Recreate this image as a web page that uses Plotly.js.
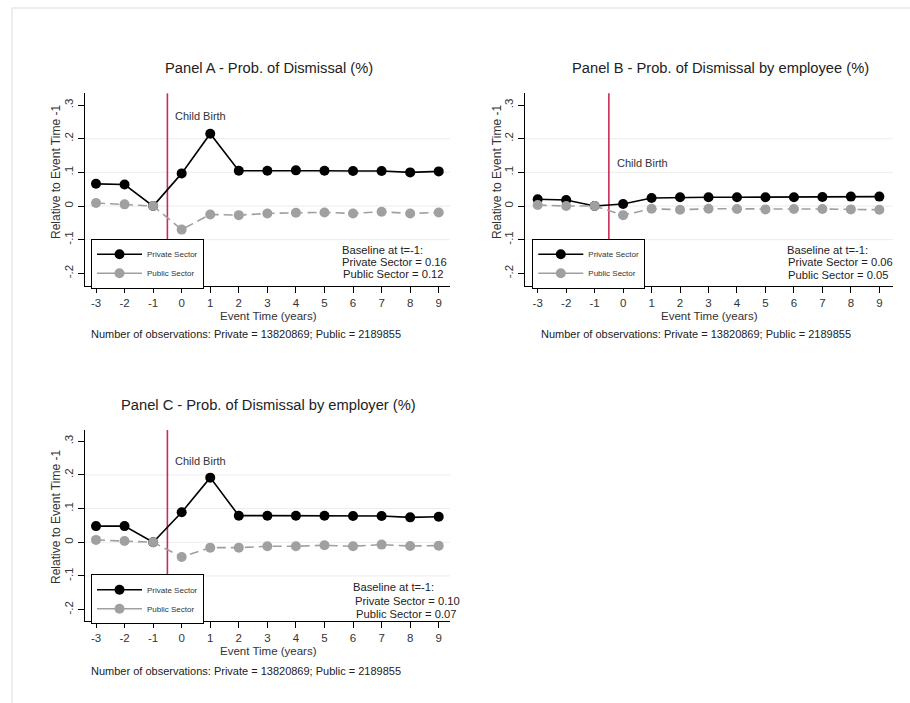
<!DOCTYPE html>
<html>
<head>
<meta charset="utf-8">
<script src="https://cdn.plot.ly/plotly-3.0.1.min.js"></script>
<style>html,body{margin:0;padding:0;background:#fff;}#chart{width:910px;height:703px;}</style>
</head>
<body>
<div id="chart"></div>
<script>
// ---- data ----
const eventTime = [-3, -2, -1, 0, 1, 2, 3, 4, 5, 6, 7, 8, 9];
const privateA = [0.066, 0.064, 0.000, 0.097, 0.215, 0.105, 0.105, 0.106, 0.105, 0.104, 0.104, 0.100, 0.103];
const publicA  = [0.009, 0.005, 0.000, -0.070, -0.025, -0.027, -0.022, -0.020, -0.019, -0.022, -0.017, -0.022, -0.019];
const privateB = [0.020, 0.018, 0.000, 0.006, 0.024, 0.026, 0.026, 0.026, 0.026, 0.026, 0.027, 0.028, 0.028];
const publicB  = [0.003, 0.000, 0.000, -0.027, -0.008, -0.011, -0.008, -0.009, -0.010, -0.009, -0.009, -0.010, -0.011];
const privateC = [0.048, 0.048, 0.000, 0.089, 0.192, 0.079, 0.079, 0.079, 0.079, 0.078, 0.078, 0.074, 0.076];
const publicC  = [0.007, 0.004, 0.000, -0.044, -0.016, -0.016, -0.012, -0.012, -0.009, -0.012, -0.007, -0.011, -0.010];
const yTickVals = [-0.2, -0.1, 0, 0.1, 0.2, 0.3];
const yTickText = ['-.2', '-.1', '0', '.1', '.2', '.3'];
const gridVals = [-0.1, 0, 0.1, 0.2];
const birthTime = -0.5;
const seriesNames = ['Private Sector', 'Public Sector'];
const panelTitles = ['Panel A - Prob. of Dismissal (%)', 'Panel B - Prob. of Dismissal by employee (%)', 'Panel C - Prob. of Dismissal by employer (%)'];
const baselineText = [
  ['Baseline at t=-1:', 'Private Sector = 0.16', 'Public Sector = 0.12'],
  ['Baseline at t=-1:', 'Private Sector = 0.06', 'Public Sector = 0.05'],
  ['Baseline at t=-1:', 'Private Sector = 0.10', 'Public Sector = 0.07']
];
const obsText = 'Number of observations: Private = 13820869; Public = 2189855';
const yTitle = 'Relative to Event Time -1';
const xTitle = 'Event Time (years)';
const birthLabel = 'Child Birth';

// ---- layout helpers (pixel -> paper) ----
const W = 910, H = 703;
const X = p => p / W;
const Y = p => 1 - p / H;
const FONT = 'Liberation Sans, Arial, sans-serif';
const TXT = '#222';
const BLACK = '#000', GRAY = '#a0a0a0';

const panels = [
  {priv: privateA, pub: publicA, xd: [85, 450], yd: [93.3, 286], xr: [-3.385, 9.395], yr: [-0.2376, 0.335],
   title: [269, 68], ytitle: [56, 172], xtitle: [268, 316.5], obs: [89, 334.5], birthY: 0.267,
   base: [[341, 250.3], [341, 262.3], [341.7, 274]], legend: [91, 238.7]},
  {priv: privateB, pub: publicB, xd: [525, 893], yd: [93.3, 286], xr: [-3.446, 9.48], yr: [-0.2376, 0.335],
   title: [720, 68], ytitle: [497, 172], xtitle: [709, 316.5], obs: [539, 334.5], birthY: 0.129,
   base: [[786, 250], [786.7, 262], [786.7, 274.7]], legend: [532.3, 238.7]},
  {priv: privateC, pub: publicC, xd: [85, 450], yd: [430, 620.7], xr: [-3.385, 9.395], yr: [-0.233, 0.3335],
   title: [268, 405], ytitle: [56, 517], xtitle: [268, 651], obs: [89, 670.5], birthY: 0.241,
   base: [[352.3, 586.7], [354.3, 600.7], [355, 614]], legend: [91, 574.3]}
];

const traces = [];
const layout = {
  width: W, height: H, margin: {l: 0, r: 0, t: 0, b: 0},
  paper_bgcolor: '#fff', plot_bgcolor: 'rgba(0,0,0,0)',
  font: {family: FONT, color: TXT, size: 11},
  annotations: [], shapes: [],
  showlegend: true
};

// faint outer border
layout.shapes.push({type: 'line', xref: 'paper', yref: 'paper', x0: X(12), x1: 1, y0: Y(8), y1: Y(8), line: {color: '#ededed', width: 2}, layer: 'below'});
layout.shapes.push({type: 'line', xref: 'paper', yref: 'paper', x0: X(12), x1: X(12), y0: Y(8), y1: 0, line: {color: '#ededed', width: 2}, layer: 'below'});

panels.forEach((p, i) => {
  const n = i === 0 ? '' : String(i + 1);
  const xa = 'x' + n, ya = 'y' + n;
  const leg = i === 0 ? 'legend' : 'legend' + (i + 1);
  traces.push({
    x: eventTime, y: p.priv, xaxis: xa, yaxis: ya, name: seriesNames[0], showlegend: false,
    type: 'scatter', mode: 'lines+markers',
    line: {color: BLACK, width: 1.6}, marker: {color: BLACK, size: 10}
  });
  traces.push({
    x: eventTime, y: p.pub, xaxis: xa, yaxis: ya, name: seriesNames[1], showlegend: false,
    type: 'scatter', mode: 'lines+markers',
    line: {color: GRAY, width: 1.6, dash: '9px,5px'}, marker: {color: GRAY, size: 10}
  });
  // legend entries (legend key uses solid lines, as in the reference)
  traces.push({
    x: [null], y: [null], xaxis: xa, yaxis: ya, name: seriesNames[0], legend: leg,
    type: 'scatter', mode: 'lines+markers', hoverinfo: 'skip',
    line: {color: BLACK, width: 1.6}, marker: {color: BLACK, size: 10}
  });
  traces.push({
    x: [null], y: [null], xaxis: xa, yaxis: ya, name: seriesNames[1], legend: leg,
    type: 'scatter', mode: 'lines+markers', hoverinfo: 'skip',
    line: {color: GRAY, width: 1.6}, marker: {color: GRAY, size: 10}
  });
  layout['xaxis' + n] = {
    domain: [X(p.xd[0]), X(p.xd[1])], range: p.xr, anchor: ya,
    tickmode: 'array', tickvals: eventTime, ticktext: eventTime.map(String),
    ticks: 'outside', ticklen: 6, tickcolor: '#000', tickwidth: 1, ticklabelstandoff: 0,
    showline: true, linecolor: '#000', linewidth: 1.2,
    showgrid: false, zeroline: false,
    tickfont: {family: FONT, size: 11.5, color: '#333'}
  };
  layout['yaxis' + n] = {
    domain: [Y(p.yd[1]), Y(p.yd[0])], range: p.yr, anchor: xa,
    tickmode: 'array', tickvals: yTickVals, ticktext: yTickText, tickangle: -90,
    ticks: 'outside', ticklen: 6, tickcolor: '#000', tickwidth: 1,
    showline: true, linecolor: '#000', linewidth: 1.2,
    showgrid: false, zeroline: false,
    tickfont: {family: FONT, size: 11.5, color: '#333'}
  };
  gridVals.forEach(g => {
    layout.shapes.push({type: 'line', xref: xa + ' domain', yref: ya, x0: 0, x1: 1, y0: g, y1: g,
      line: {color: '#ececec', width: 1}, layer: 'below'});
  });
  layout.shapes.push({type: 'line', xref: xa, yref: ya + ' domain', x0: birthTime, x1: birthTime, y0: 0, y1: 1,
    line: {color: '#c92a57', width: 1.6}, layer: 'below'});

  layout[leg] = {
    x: X(p.legend[0]), y: Y(p.legend[1]), xanchor: 'left', yanchor: 'top',
    xref: 'paper', yref: 'paper',
    bgcolor: '#fff', bordercolor: '#000', borderwidth: 1,
    font: {family: FONT, size: 8, color: '#333'}, itemwidth: 45, tracegroupgap: 0
  };

  const A = layout.annotations;
  A.push({xref: 'paper', yref: 'paper', x: X(p.title[0]), y: Y(p.title[1]), text: panelTitles[i], showarrow: false,
    xanchor: 'center', yanchor: 'middle', font: {family: FONT, size: 14.7, color: '#222'}});
  A.push({xref: 'paper', yref: 'paper', x: X(p.ytitle[0]), y: Y(p.ytitle[1]), text: yTitle, showarrow: false,
    textangle: -90, xanchor: 'center', yanchor: 'middle', font: {family: FONT, size: 12, color: '#333'}});
  A.push({xref: 'paper', yref: 'paper', x: X(p.xtitle[0]), y: Y(p.xtitle[1]), text: xTitle, showarrow: false,
    xanchor: 'center', yanchor: 'middle', borderpad: 0, font: {family: FONT, size: 11.5, color: '#333'}});
  A.push({xref: 'paper', yref: 'paper', x: X(p.obs[0]), y: Y(p.obs[1]), text: obsText, showarrow: false,
    xanchor: 'left', yanchor: 'middle', font: {family: FONT, size: 11, color: '#222'}});
  A.push({xref: xa, yref: ya, x: birthTime, y: p.birthY, text: birthLabel, showarrow: false,
    xanchor: 'left', yanchor: 'middle', xshift: 6, font: {family: FONT, size: 11, color: '#333'}});
  baselineText[i].forEach((t, k) => {
    A.push({xref: 'paper', yref: 'paper', x: X(p.base[k][0]), y: Y(p.base[k][1]), text: t, showarrow: false,
      xanchor: 'left', yanchor: 'middle', borderpad: 0, font: {family: FONT, size: 11.2, color: '#222'}});
  });
});

Plotly.newPlot('chart', traces, layout, {displayModeBar: false, staticPlot: true});
</script>
</body>
</html>
